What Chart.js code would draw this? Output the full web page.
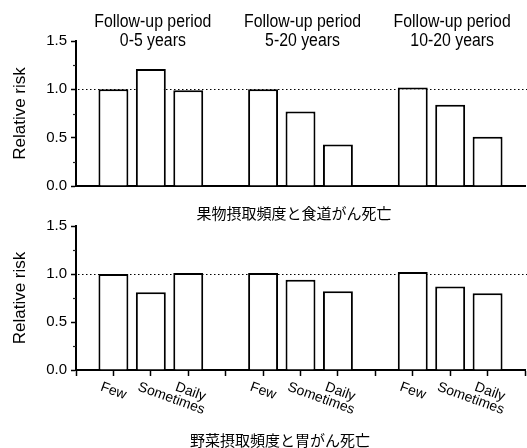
<!DOCTYPE html>
<html>
<head>
<meta charset="utf-8">
<script src="https://cdn.jsdelivr.net/npm/chart.js@4"></script>
<style>
  html, body { margin: 0; padding: 0; background: #fff; }
  #wrap { position: relative; width: 527px; height: 448px; overflow: hidden; }
  canvas { position: absolute; left: 0; }
  #fruit { top: 0; }
  #veg { top: 200px; }
</style>
</head>
<body>
<div id="wrap">
  <canvas id="fruit" width="527" height="225"></canvas>
  <canvas id="veg" width="527" height="248"></canvas>
</div>
<script>
// Follow-up periods (column headers), three intake frequencies per period
const periodTitles = ['Follow-up period', 'Follow-up period', 'Follow-up period'];
const periodRanges = ['0-5 years', '5-20 years', '10-20 years'];
const frequencies = ['Few', 'Sometimes', 'Daily'];
// Positions of the nine bars on the x scale (gaps separate the periods)
const slots = [1, 2, 3, 5, 6, 7, 9, 10, 11];
// Relative risk, period by period: Few / Sometimes / Daily
const fruitRisk = [1.00, 1.21, 0.99, 1.00, 0.77, 0.43, 1.02, 0.84, 0.51];
const vegRisk = [1.00, 0.81, 1.01, 1.01, 0.94, 0.82, 1.02, 0.87, 0.80];
const yTickValues = [0, 0.5, 1.0, 1.5];
const referenceRisk = 1.0;
const fruitCaption = '果物摂取頻度と食道がん死亡';
const vegCaption = '野菜摂取頻度と胃がん死亡';

const SANS = "'Liberation Sans', Arial, sans-serif";
const CJK = "'Noto Sans CJK JP', sans-serif";
Chart.defaults.font.family = SANS;
Chart.defaults.color = '#000';

// dotted line at RR = 1.0, behind the bars
const referenceLine = {
  id: 'referenceLine',
  beforeDatasetsDraw(chart) {
    const { ctx, chartArea, scales } = chart;
    const y = Math.round(scales.y.getPixelForValue(referenceRisk)) + 0.5;
    ctx.save();
    ctx.strokeStyle = '#000';
    ctx.lineWidth = 1.2;
    ctx.setLineDash([1.5, 2.5]);
    ctx.beginPath();
    ctx.moveTo(chartArea.left + 2, y);
    ctx.lineTo(chart.width, y);
    ctx.stroke();
    ctx.restore();
  }
};

// short minor ticks halfway between labelled y ticks
const minorTicks = {
  id: 'minorTicks',
  afterDraw(chart) {
    const { ctx, scales } = chart;
    const y = scales.y;
    ctx.save();
    ctx.strokeStyle = '#222';
    ctx.lineWidth = 1.2;
    for (let i = 0; i < y.ticks.length - 1; i++) {
      const mid = (y.ticks[i].value + y.ticks[i + 1].value) / 2;
      const py = Math.round(y.getPixelForValue(mid)) + 0.5;
      ctx.beginPath();
      ctx.moveTo(y.right - 3, py);
      ctx.lineTo(y.right, py);
      ctx.stroke();
    }
    ctx.restore();
  }
};

// period headers above each group of bars
const periodHeaders = {
  id: 'periodHeaders',
  afterDraw(chart, args, opts) {
    if (!opts.show) return;
    const { ctx, scales } = chart;
    ctx.save();
    ctx.fillStyle = '#000';
    ctx.font = '18px ' + SANS;
    ctx.textAlign = 'center';
    ctx.textBaseline = 'middle';
    for (let g = 0; g < periodRanges.length; g++) {
      const group = slots.slice(g * 3, g * 3 + 3);
      const cx = group.reduce((s, v) => s + scales.x.getPixelForValue(v), 0) / group.length;
      [[periodTitles[g], 22], [periodRanges[g], 41]].forEach(([t, y]) => {
        ctx.save();
        ctx.translate(cx + 2, y);
        ctx.scale(0.88, 1);
        ctx.fillText(t, 0, 0);
        ctx.restore();
      });
    }
    ctx.restore();
  }
};

// slanted frequency labels under the x axis
const frequencyLabels = {
  id: 'frequencyLabels',
  afterDraw(chart, args, opts) {
    if (!opts.show) return;
    const { ctx, scales } = chart;
    const x = scales.x;
    ctx.save();
    ctx.fillStyle = '#000';
    ctx.font = '14px ' + SANS;
    ctx.textAlign = 'left';
    ctx.textBaseline = 'top';
    slots.forEach((s, i) => {
      const px = x.getPixelForValue(s);
      ctx.save();
      ctx.translate(px - 10, x.top + 10);
      ctx.rotate(20 * Math.PI / 180);
      ctx.fillText(frequencies[i % frequencies.length], 0, 0);
      ctx.restore();
    });
    ctx.restore();
  }
};

// caption below each panel
const caption = {
  id: 'caption',
  afterDraw(chart, args, opts) {
    if (!opts.text) return;
    const { ctx } = chart;
    ctx.save();
    ctx.fillStyle = '#000';
    ctx.font = '15px ' + CJK;
    ctx.textAlign = 'center';
    ctx.textBaseline = 'middle';
    ctx.fillText(opts.text, opts.x, opts.y);
    ctx.restore();
  }
};

function panel(canvasId, values, cfg) {
  return new Chart(document.getElementById(canvasId), {
    type: 'bar',
    data: {
      datasets: [{
        data: slots.map((s, i) => ({ x: s, y: values[i] })),
        backgroundColor: '#fff',
        borderColor: '#000',
        borderWidth: 2,
        categoryPercentage: 1,
        barPercentage: 0.8
      }]
    },
    options: {
      responsive: false,
      animation: false,
      layout: { padding: { top: cfg.padTop, right: 2, left: 0, bottom: 0 } },
      plugins: {
        legend: { display: false },
        tooltip: { enabled: false },
        periodHeaders: { show: cfg.headers },
        frequencyLabels: { show: cfg.xLabels },
        caption: { text: cfg.caption, x: cfg.capX, y: cfg.capY }
      },
      scales: {
        x: {
          type: 'linear',
          min: 0,
          max: 12,
          offset: false,
          ticks: { display: false, stepSize: 1 },
          grid: {
            display: cfg.xLabels,
            offset: false,
            drawOnChartArea: false,
            drawTicks: true,
            tickLength: 6,
            tickColor: '#000',
            tickWidth: 1.5
          },
          border: { display: true, color: '#000', width: 2 },
          afterFit: s => { s.height = cfg.xHeight; }
        },
        y: {
          min: 0,
          max: 1.5,
          afterBuildTicks: s => { s.ticks = yTickValues.map(v => ({ value: v })); },
          ticks: {
            font: { size: 15 },
            padding: 4,
            callback: v => Number(v).toFixed(1)
          },
          grid: {
            drawOnChartArea: false,
            drawTicks: true,
            tickLength: 5,
            tickColor: '#000',
            tickWidth: 1.5
          },
          border: { display: true, color: '#000', width: 2 },
          title: {
            display: true,
            text: 'Relative risk',
            font: { size: 17 },
            padding: { top: 10, bottom: 0 }
          },
          afterFit: s => { s.width = 76; }
        }
      }
    },
    plugins: [referenceLine, minorTicks, periodHeaders, frequencyLabels, caption]
  });
}

panel('fruit', fruitRisk, {
  padTop: 41, xHeight: 39, headers: true, xLabels: false,
  caption: fruitCaption, capX: 294, capY: 213
});
panel('veg', vegRisk, {
  padTop: 26, xHeight: 78, headers: false, xLabels: true,
  caption: vegCaption, capX: 280, capY: 240
});
</script>
</body>
</html>
